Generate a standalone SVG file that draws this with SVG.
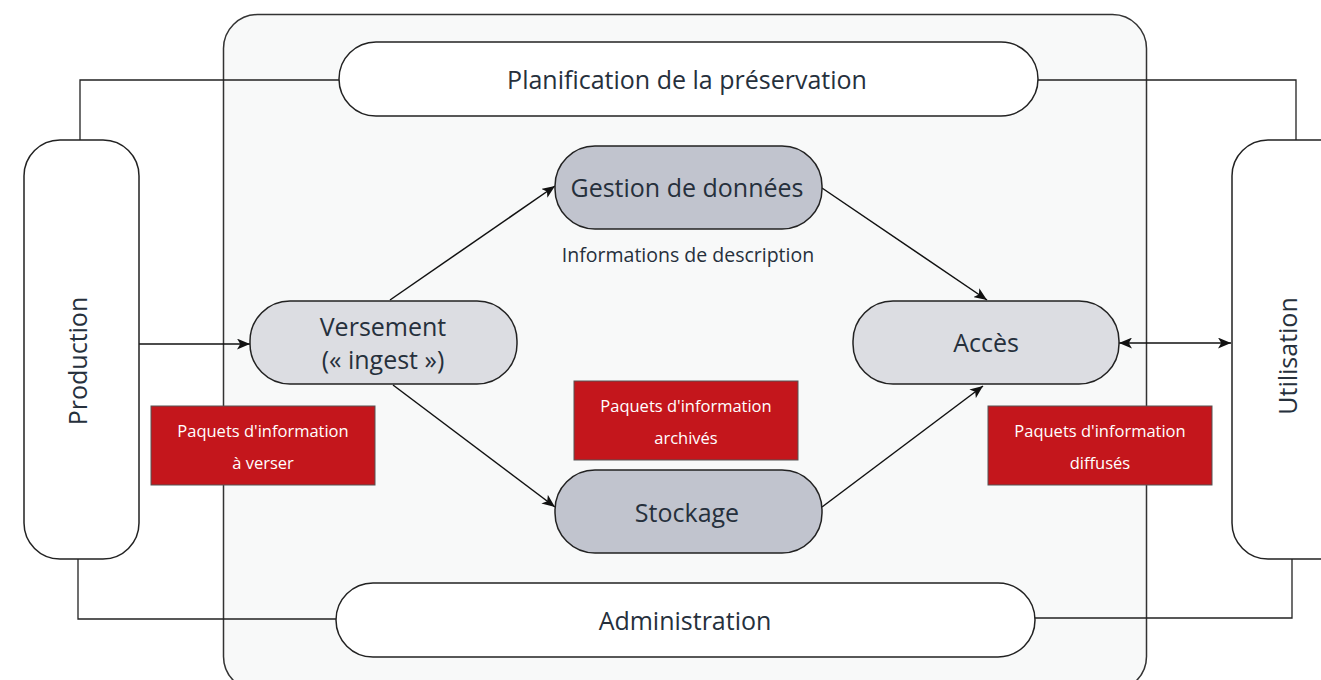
<svg xmlns="http://www.w3.org/2000/svg" width="1321" height="680" viewBox="0 0 1321 680">
<defs>
<marker id="ah" viewBox="0 0 12 10" refX="12" refY="5" markerWidth="13" markerHeight="11" markerUnits="userSpaceOnUse" orient="auto-start-reverse">
<path d="M0,0 L12,5 L0,10 L3,5 z" fill="#111"/>
</marker>
<style>
.t{font-family:"Open Sans","Noto Sans",sans-serif;fill:#26303c;text-anchor:middle}
.big{font-size:25px}
.w{font-family:"Open Sans","Noto Sans",sans-serif;fill:#ffffff;text-anchor:middle;font-size:16.5px}
.pill{fill:#ffffff;stroke:#222;stroke-width:1.5}
.light{fill:#dcdde2;stroke:#222;stroke-width:1.5}
.dark{fill:#c1c4ce;stroke:#222;stroke-width:1.5}
.red{fill:#c4161c;stroke:#555;stroke-width:1}
.ln{fill:none;stroke:#222;stroke-width:1.3}
.ar{fill:none;stroke:#111;stroke-width:1.5}
</style>
</defs>
<rect x="0" y="0" width="1321" height="680" fill="#ffffff"/>
<g id="container"><rect x="223.5" y="14.5" width="923" height="676" rx="34" fill="#f8f9f9" stroke="#333" stroke-width="1.5"/></g>
<g id="connectors">
<polyline class="ln" points="80,140 80,80 339,80"/>
<polyline class="ln" points="1038,80 1296,80 1296,140"/>
<polyline class="ln" points="78,559 78,619 336,619"/>
<polyline class="ln" points="1035,618 1292,618 1292,559"/>
<line class="ar" x1="139" y1="344" x2="250" y2="344" marker-end="url(#ah)"/>
<line class="ar" x1="390" y1="300" x2="555" y2="186" marker-end="url(#ah)"/>
<line class="ar" x1="822" y1="188" x2="987" y2="300" marker-end="url(#ah)"/>
<line class="ar" x1="393" y1="385" x2="555" y2="507" marker-end="url(#ah)"/>
<line class="ar" x1="822" y1="507" x2="983" y2="386" marker-end="url(#ah)"/>
<line class="ar" x1="1119" y1="343" x2="1231" y2="343" marker-start="url(#ah)" marker-end="url(#ah)"/>
</g>
<g id="planification"><rect class="pill" x="339" y="42" width="699" height="74" rx="37"/><text class="t big" x="687" y="89">Planification de la préservation</text></g>
<g id="administration"><rect class="pill" x="336" y="583" width="699" height="74" rx="37"/><text class="t big" x="685" y="630">Administration</text></g>
<g id="production"><rect class="pill" x="24" y="140" width="115" height="419" rx="36"/><text class="t big" transform="translate(87,361) rotate(-90)">Production</text></g>
<g id="utilisation"><rect class="pill" x="1232" y="140" width="130" height="419" rx="36"/><text class="t big" transform="translate(1297,356) rotate(-90)">Utilisation</text></g>
<g id="versement"><rect class="light" x="250" y="301" width="267" height="83" rx="40"/><text class="t big" x="383" y="336">Versement</text><text class="t big" x="383" y="369">(« ingest »)</text></g>
<g id="gestion"><rect class="dark" x="555" y="146" width="267" height="83" rx="40"/><text class="t big" x="687" y="197">Gestion de données</text></g>
<g id="description"><text class="t" x="688" y="262" font-size="19.5">Informations de description</text></g>
<g id="stockage"><rect class="dark" x="555" y="470" width="267" height="83" rx="40"/><text class="t big" x="687" y="522">Stockage</text></g>
<g id="acces"><rect class="light" x="853" y="301" width="266" height="83" rx="40"/><text class="t big" x="986" y="352">Accès</text></g>
<g id="paquets-verser"><rect class="red" x="151" y="406" width="224" height="79"/><text class="w" x="263" y="437">Paquets d'information</text><text class="w" x="263" y="469">à verser</text></g>
<g id="paquets-archives"><rect class="red" x="574" y="381" width="224" height="79"/><text class="w" x="686" y="412">Paquets d'information</text><text class="w" x="686" y="444">archivés</text></g>
<g id="paquets-diffuses"><rect class="red" x="988" y="406" width="224" height="79"/><text class="w" x="1100" y="437">Paquets d'information</text><text class="w" x="1100" y="469">diffusés</text></g>
</svg>
